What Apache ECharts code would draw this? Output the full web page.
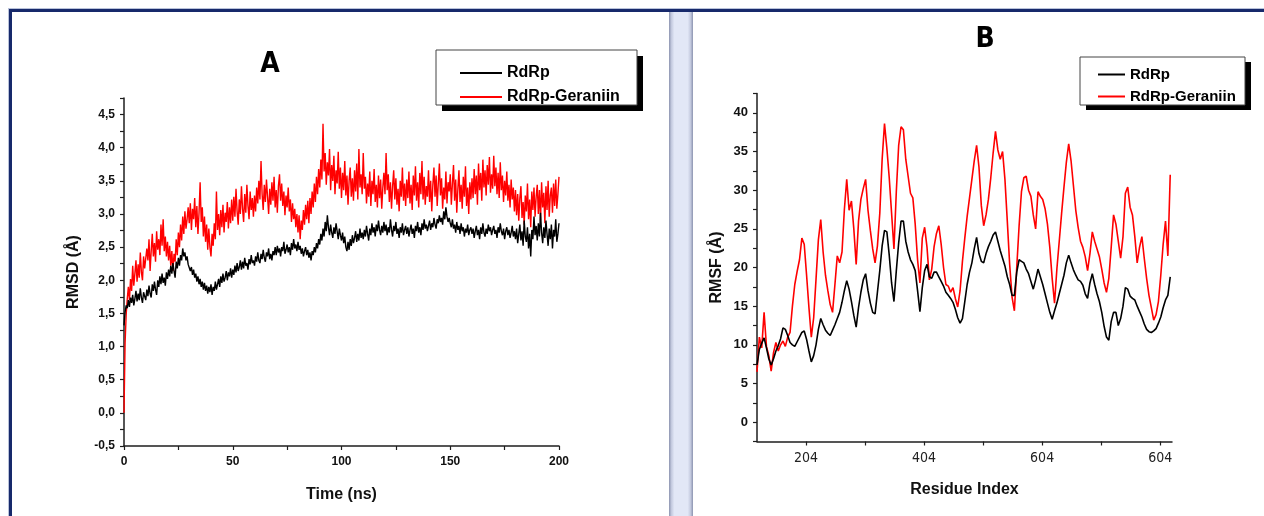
<!DOCTYPE html>
<html><head><meta charset="utf-8">
<script src="https://cdn.jsdelivr.net/npm/echarts@6/dist/echarts.min.js"></script>
<style>html,body{margin:0;padding:0;background:#fff;}#c{width:1264px;height:516px;}</style>
</head><body><div id="c"></div>
<script>
// ---------- Panel A: RMSD vs time (one value every 0.5 ns, 0..200 ns) ----------
const timeStepNs = 0.5;
const rmsdRdRp = [
1.32,1.52,1.62,1.58,1.70,1.60,1.74,1.66,1.78,1.62,1.72,1.84,1.68,1.80,1.70,1.88,1.74,1.66,1.82,1.76,
1.70,1.86,1.76,1.92,1.80,1.74,1.94,1.84,1.98,1.86,1.78,2.00,1.90,2.06,1.94,2.10,1.96,2.04,1.92,2.12,
2.02,2.16,2.06,2.22,2.10,2.26,2.14,2.04,2.28,2.18,2.34,2.22,2.38,2.30,2.48,2.36,2.42,2.30,2.36,2.24,
2.26,2.14,2.20,2.08,2.16,2.04,2.10,1.98,2.06,1.94,2.02,1.90,1.98,1.86,1.96,1.84,1.92,1.80,1.90,1.82,
1.94,1.78,1.90,1.84,1.98,1.86,1.94,2.02,1.90,2.06,1.96,2.10,1.98,2.04,2.14,2.00,2.12,2.06,2.18,2.04,
2.16,2.08,2.22,2.12,2.26,2.14,2.20,2.30,2.16,2.28,2.18,2.34,2.22,2.26,2.16,2.32,2.24,2.38,2.26,2.30,
2.22,2.36,2.28,2.42,2.30,2.26,2.40,2.32,2.46,2.34,2.28,2.42,2.36,2.48,2.32,2.40,2.30,2.44,2.38,2.50,
2.38,2.52,2.42,2.48,2.36,2.50,2.44,2.58,2.40,2.46,2.54,2.42,2.50,2.38,2.56,2.46,2.62,2.48,2.54,2.44,
2.58,2.46,2.52,2.40,2.48,2.36,2.44,2.50,2.38,2.46,2.34,2.42,2.30,2.44,2.38,2.50,2.42,2.56,2.48,2.62,
2.54,2.70,2.60,2.78,2.66,2.88,2.74,2.98,2.80,2.68,2.84,2.72,2.64,2.80,2.70,2.86,2.74,2.62,2.78,2.68,
2.60,2.72,2.56,2.66,2.50,2.44,2.58,2.46,2.62,2.52,2.68,2.56,2.64,2.74,2.58,2.70,2.60,2.78,2.64,2.72,
2.62,2.76,2.66,2.82,2.70,2.60,2.78,2.68,2.86,2.72,2.80,2.66,2.84,2.74,2.90,2.76,2.68,2.82,2.72,2.88,
2.74,2.84,2.68,2.80,2.72,2.92,2.76,2.66,2.82,2.74,2.88,2.70,2.78,2.64,2.80,2.72,2.86,2.68,2.76,2.82,
2.70,2.80,2.66,2.76,2.84,2.70,2.78,2.64,2.82,2.74,2.88,2.72,2.80,2.68,2.86,2.76,2.92,2.78,2.84,2.74,
2.82,2.90,2.76,2.86,2.80,2.94,2.84,2.78,2.92,2.86,2.98,2.88,2.94,2.84,3.04,2.92,3.10,2.96,2.88,2.94,
2.86,2.80,2.92,2.78,2.84,2.72,2.88,2.76,2.82,2.70,2.86,2.74,2.80,2.66,2.78,2.72,2.84,2.68,2.76,2.80,
2.70,2.78,2.64,2.74,2.82,2.68,2.76,2.62,2.80,2.70,2.86,2.72,2.66,2.78,2.70,2.84,2.74,2.80,2.68,2.76,
2.82,2.70,2.76,2.64,2.80,2.72,2.86,2.74,2.68,2.78,2.62,2.74,2.80,2.68,2.76,2.64,2.72,2.82,2.66,2.74,
2.62,2.78,2.56,2.70,2.84,2.60,2.74,2.52,2.90,2.66,2.58,2.80,2.48,2.70,2.36,2.76,2.62,2.96,2.68,2.82,
2.60,2.86,2.66,3.02,2.72,2.56,2.80,2.64,2.90,2.70,2.52,2.78,2.62,2.84,2.48,2.76,2.66,2.92,2.58,2.70,
2.86];
const rmsdGeraniin = [
0.00,1.05,1.48,1.72,1.90,1.70,2.02,1.84,2.22,1.92,2.10,2.30,1.98,2.24,2.04,2.42,2.12,2.00,2.36,2.18,
2.20,2.48,2.30,2.62,2.14,2.44,2.70,2.36,2.56,2.28,2.74,2.46,2.62,2.38,2.84,2.52,2.92,2.44,2.66,2.36,
2.58,2.30,2.52,2.22,2.44,2.14,2.40,2.28,2.62,2.38,2.72,2.50,2.84,2.60,2.96,2.70,3.04,2.78,2.92,3.10,
2.86,3.16,2.76,3.08,2.92,3.24,2.80,3.12,2.70,3.02,3.48,2.88,3.10,2.66,2.96,2.58,2.84,2.46,2.78,2.50,
2.36,2.70,2.52,2.86,2.62,3.34,2.76,3.00,2.68,3.06,2.80,3.14,2.72,3.02,2.88,3.18,2.78,3.10,2.86,3.22,
2.90,3.26,2.96,3.38,3.04,2.84,3.22,3.00,3.42,3.08,2.88,3.30,3.02,3.44,3.12,2.92,3.34,3.06,3.24,2.96,
3.28,3.04,3.40,3.16,3.50,3.22,3.80,3.30,3.06,3.44,3.18,3.52,3.26,3.00,3.38,3.14,3.48,3.20,3.56,3.10,
3.36,3.02,3.42,3.60,3.20,3.46,3.12,3.34,2.98,3.28,3.10,3.40,3.04,3.22,2.88,3.16,2.92,3.08,2.80,3.00,
2.72,2.98,2.62,2.90,2.76,3.06,2.84,3.14,2.92,3.20,2.86,3.24,3.00,3.34,3.10,3.46,3.18,3.56,3.30,3.68,
3.40,3.82,3.52,4.36,3.64,3.92,3.44,3.78,3.58,3.98,3.36,3.74,3.50,3.88,3.30,3.66,3.46,3.94,3.38,3.70,
3.24,3.62,3.36,3.80,3.28,3.58,3.14,3.50,3.70,3.26,3.54,3.20,3.66,3.34,3.76,3.22,3.98,3.40,3.60,3.30,
3.92,3.38,3.56,3.16,3.46,3.26,3.64,3.12,3.50,3.30,3.68,3.18,3.44,3.10,3.58,3.24,3.52,3.08,3.40,3.62,
3.30,3.92,3.36,3.60,3.18,3.48,3.08,3.42,3.66,3.22,3.54,3.14,3.38,3.04,3.50,3.26,3.70,3.20,3.46,3.12,
3.52,3.24,3.64,3.16,3.44,3.06,3.58,3.28,3.72,3.20,3.48,3.10,3.62,3.30,3.80,3.22,3.56,3.14,3.42,3.26,
3.66,3.18,3.50,3.04,3.44,3.70,3.26,3.58,3.12,3.46,3.76,3.28,3.54,3.08,3.40,3.22,3.64,3.16,3.48,3.34,
3.60,3.14,3.46,3.74,3.20,3.52,3.02,3.38,3.66,3.18,3.44,3.08,3.56,3.26,3.72,3.12,3.40,3.00,3.48,3.22,
3.54,3.24,3.68,3.30,3.58,3.14,3.76,3.36,3.62,3.20,3.82,3.40,3.66,3.28,3.74,3.44,3.86,3.32,3.60,3.38,
3.88,3.42,3.70,3.30,3.62,3.24,3.78,3.36,3.58,3.18,3.50,3.28,3.64,3.20,3.44,3.10,3.52,3.22,3.40,3.04,
3.36,2.98,3.30,2.90,3.24,3.42,2.94,3.18,2.84,3.28,3.04,3.46,2.92,3.22,2.80,3.34,3.06,3.40,2.96,3.26,
3.44,3.00,3.36,2.90,3.48,3.10,3.32,2.86,3.42,3.06,3.50,2.96,3.28,3.40,3.02,3.46,3.12,3.52,3.08,3.30,
3.56];

// ---------- Panel B: RMSF vs residue (one value every 4 residues from 121) ----------
const residueStart = 121, residueStep = 4;
const rmsfRdRp = [
7.4,9.4,10.2,10.9,9.6,8.2,7.4,8.2,9.2,9.9,10.8,12.2,12.0,11.2,10.3,10.0,9.8,10.4,11.0,11.6,
11.8,10.7,9.2,7.8,8.6,10.0,12.0,13.4,12.6,11.9,11.5,11.2,11.9,12.6,13.4,14.2,15.5,17.0,18.3,17.2,
15.6,13.8,12.3,14.8,16.8,18.4,19.2,17.0,15.4,14.2,14.0,16.8,19.6,22.8,24.8,24.6,21.6,18.0,15.6,19.6,
23.2,26.0,26.0,23.4,22.0,21.0,20.4,19.6,17.0,14.3,17.4,19.6,20.4,18.8,18.6,19.4,19.4,18.8,18.2,17.6,
16.8,16.4,16.0,15.5,14.6,13.5,12.8,13.4,15.6,17.8,19.4,20.6,22.4,23.9,21.8,20.8,20.6,21.8,22.7,23.4,
24.2,24.6,23.4,22.2,21.2,20.2,18.8,17.8,16.4,16.4,19.4,21.0,20.8,20.6,19.8,19.2,18.2,17.2,18.4,19.8,
18.8,17.8,16.6,15.4,14.2,13.3,14.4,15.4,16.6,17.8,19.0,20.6,21.6,20.6,19.7,19.0,18.4,18.2,17.7,16.6,
16.0,18.0,19.2,17.8,16.6,15.6,14.2,12.4,11.0,10.6,13.0,14.2,14.2,12.5,13.4,15.0,17.4,17.2,16.3,16.0,
15.8,15.0,14.3,13.6,12.7,12.0,11.7,11.6,11.8,12.1,12.8,13.6,14.8,15.8,16.4,18.8];
const rmsfGeraniin = [
6.5,11.0,9.6,14.2,9.8,8.6,6.6,9.0,10.3,9.2,10.0,10.5,9.8,11.0,11.6,15.0,17.8,19.5,21.0,23.8,
23.0,19.0,14.8,11.0,13.5,18.5,23.6,26.2,22.0,19.0,17.0,15.2,14.2,17.8,21.5,20.6,22.0,27.5,31.4,27.4,
28.6,25.0,20.4,26.0,28.8,30.2,31.4,27.4,24.8,22.4,20.6,22.8,27.0,34.0,38.6,35.4,31.6,27.0,22.4,29.8,
35.8,38.2,37.8,34.0,31.8,29.6,29.0,25.6,21.0,18.0,23.8,25.2,22.6,18.4,19.8,22.7,24.4,25.4,23.0,20.0,
17.8,17.6,16.8,17.4,16.0,14.9,17.0,20.8,23.8,26.6,29.0,31.4,33.8,35.8,33.0,28.0,25.4,26.8,28.8,31.6,
34.8,37.6,35.2,34.0,35.0,31.4,26.0,20.4,16.2,14.4,20.0,25.4,29.8,31.6,31.8,30.0,29.2,26.8,25.0,29.8,
29.2,28.8,27.6,25.6,22.6,18.6,15.4,19.8,23.4,27.0,30.4,33.6,36.0,33.8,30.6,27.4,25.2,23.4,22.6,21.4,
19.6,21.8,24.6,23.4,22.4,21.4,19.8,18.0,16.8,18.6,22.6,26.8,25.6,23.4,21.2,24.0,29.6,30.4,27.8,26.8,
24.0,20.6,22.6,24.0,21.2,18.6,16.4,14.8,13.2,13.9,15.6,19.0,23.0,26.0,21.5,32.0];

const seriesNames = ['RdRp', 'RdRp-Geraniin'];
const seriesColors = ['#000000', '#ff0000'];
const residueTickValues = [204, 404, 604, 804];
const residueTickLabels = ['204', '404', '604', '604'];
const residueAllTicks = [204, 304, 404, 504, 604, 704, 804];

// ---------- build ----------
const toTime = arr => arr.map((v, i) => [i * timeStepNs, v]);
const toRes = arr => arr.map((v, i) => [residueStart + i * residueStep, v]);

const SANS = '"Liberation Sans", Arial, sans-serif';
const NARROW = '"Liberation Sans Narrow", "Arial Narrow", "DejaVu Sans Condensed", sans-serif';
const axisCol = '#1e1e1e';
const isMult = (v, m) => Math.abs(v / m - Math.round(v / m)) < 1e-6;

const baseAxis = {
  axisLine: { show: true, onZero: false, lineStyle: { color: axisCol, width: 1.5 } },
  axisTick: { show: true, inside: false, length: 4, lineStyle: { color: axisCol, width: 1.2 } },
  splitLine: { show: false },
  nameLocation: 'middle',
  nameTextStyle: { fontFamily: SANS, fontWeight: 'bold', fontSize: 16, color: '#111' }
};

const chart = echarts.init(document.getElementById('c'), null, { renderer: 'canvas' });
chart.setOption({
  animation: false,
  backgroundColor: '#ffffff',
  grid: [
    { left: 124, top: 98, width: 435, height: 348, containLabel: false },
    { left: 757, top: 93.5, width: 415, height: 348, containLabel: false }
  ],
  xAxis: [
    Object.assign({}, baseAxis, {
      gridIndex: 0, type: 'value', min: 0, max: 200, interval: 25,
      name: 'Time (ns)', nameGap: 41,
      axisLabel: { margin: 10, fontFamily: SANS, fontWeight: 'bold', fontSize: 12, color: '#111',
        formatter: v => isMult(v, 50) ? String(v) : '' }
    }),
    Object.assign({}, baseAxis, {
      gridIndex: 1, type: 'value', min: 121, max: 824,
      name: 'Residue Index', nameGap: 40,
      axisTick: { show: true, inside: false, length: 4, customValues: residueAllTicks,
        lineStyle: { color: axisCol, width: 1.2 } },
      axisLabel: { margin: 10, fontFamily: NARROW, fontSize: 14, color: '#222',
        customValues: residueTickValues,
        formatter: v => { const k = residueTickValues.indexOf(v); return k >= 0 ? residueTickLabels[k] : ''; } }
    })
  ],
  yAxis: [
    Object.assign({}, baseAxis, {
      gridIndex: 0, type: 'value', min: -0.5, max: 4.75, interval: 0.25,
      name: 'RMSD (Å)', nameGap: 42,
      axisLabel: { margin: 9, fontFamily: SANS, fontWeight: 'bold', fontSize: 12, color: '#111',
        formatter: v => isMult(v, 0.5) ? v.toFixed(1).replace('.', ',') : '' }
    }),
    Object.assign({}, baseAxis, {
      gridIndex: 1, type: 'value', min: -2.5, max: 42.5, interval: 2.5,
      name: 'RMSF (Å)', nameGap: 32,
      axisLabel: { margin: 9, fontFamily: SANS, fontWeight: 'bold', fontSize: 13, color: '#111',
        formatter: v => (isMult(v, 5) && v >= 0) ? String(v) : '' }
    })
  ],
  legend: [
    { data: seriesNames, orient: 'vertical', left: 455, top: 60, itemWidth: 42, itemHeight: 2, itemGap: 8,
      icon: 'rect', z: 20, selectedMode: false,
      textStyle: { fontFamily: SANS, fontWeight: 'bold', fontSize: 16, color: '#000' } },
    { data: seriesNames, orient: 'vertical', left: 1093, top: 62, itemWidth: 27, itemHeight: 2, itemGap: 7,
      icon: 'rect', z: 20, selectedMode: false,
      textStyle: { fontFamily: SANS, fontWeight: 'bold', fontSize: 15, color: '#000' } }
  ],
  series: [
    { name: seriesNames[1], type: 'line', xAxisIndex: 0, yAxisIndex: 0, data: toTime(rmsdGeraniin),
      showSymbol: false, symbol: 'none', color: seriesColors[1], lineStyle: { width: 1.4, color: seriesColors[1] } },
    { name: seriesNames[0], type: 'line', xAxisIndex: 0, yAxisIndex: 0, data: toTime(rmsdRdRp),
      showSymbol: false, symbol: 'none', color: seriesColors[0], lineStyle: { width: 1.4, color: seriesColors[0] } },
    { name: seriesNames[1], type: 'line', xAxisIndex: 1, yAxisIndex: 1, data: toRes(rmsfGeraniin),
      showSymbol: false, symbol: 'none', color: seriesColors[1], lineStyle: { width: 1.6, color: seriesColors[1] } },
    { name: seriesNames[0], type: 'line', xAxisIndex: 1, yAxisIndex: 1, data: toRes(rmsfRdRp),
      showSymbol: false, symbol: 'none', color: seriesColors[0], lineStyle: { width: 1.6, color: seriesColors[0] } }
  ],
  graphic: [
    // page frame
    { type: 'rect', z: 1, shape: { x: 8, y: 8, width: 1256, height: 1 }, style: { fill: '#b9c2da' } },
    { type: 'rect', z: 1, shape: { x: 8, y: 8, width: 1, height: 508 }, style: { fill: '#b9c2da' } },
    { type: 'rect', z: 2, shape: { x: 9, y: 9, width: 1255, height: 3 }, style: { fill: '#17296b' } },
    { type: 'rect', z: 2, shape: { x: 9, y: 9, width: 3, height: 507 }, style: { fill: '#17296b' } },
    // separator bar
    { type: 'rect', z: 1, shape: { x: 669, y: 12, width: 24, height: 504 },
      style: { fill: new echarts.graphic.LinearGradient(0, 0, 1, 0, [
        { offset: 0, color: '#8c94b0' }, { offset: 0.1, color: '#c3c9de' }, { offset: 0.22, color: '#e2e7f6' },
        { offset: 0.78, color: '#e2e7f6' }, { offset: 0.9, color: '#c3c9de' }, { offset: 1, color: '#8c94b0' }]) } },
    // legend boxes with hard shadow
    { type: 'rect', z: 3, shape: { x: 442, y: 56, width: 201, height: 55 }, style: { fill: '#000' } },
    { type: 'rect', z: 4, shape: { x: 436, y: 50, width: 201, height: 55 }, style: { fill: '#fff', stroke: '#444', lineWidth: 1 } },
    { type: 'rect', z: 3, shape: { x: 1086, y: 62, width: 165, height: 48 }, style: { fill: '#000' } },
    { type: 'rect', z: 4, shape: { x: 1080, y: 57, width: 165, height: 48 }, style: { fill: '#fff', stroke: '#444', lineWidth: 1 } },
    // panel titles
    { type: 'text', z: 5, x: 270, y: 65, style: { text: 'A', font: 'bold 28px ' + NARROW, fill: '#000', textAlign: 'center', textVerticalAlign: 'middle' } },
    { type: 'text', z: 5, x: 985, y: 40, style: { text: 'B', font: 'bold 28px ' + NARROW, fill: '#000', textAlign: 'center', textVerticalAlign: 'middle' } }
  ]
});
</script>
</body></html>
